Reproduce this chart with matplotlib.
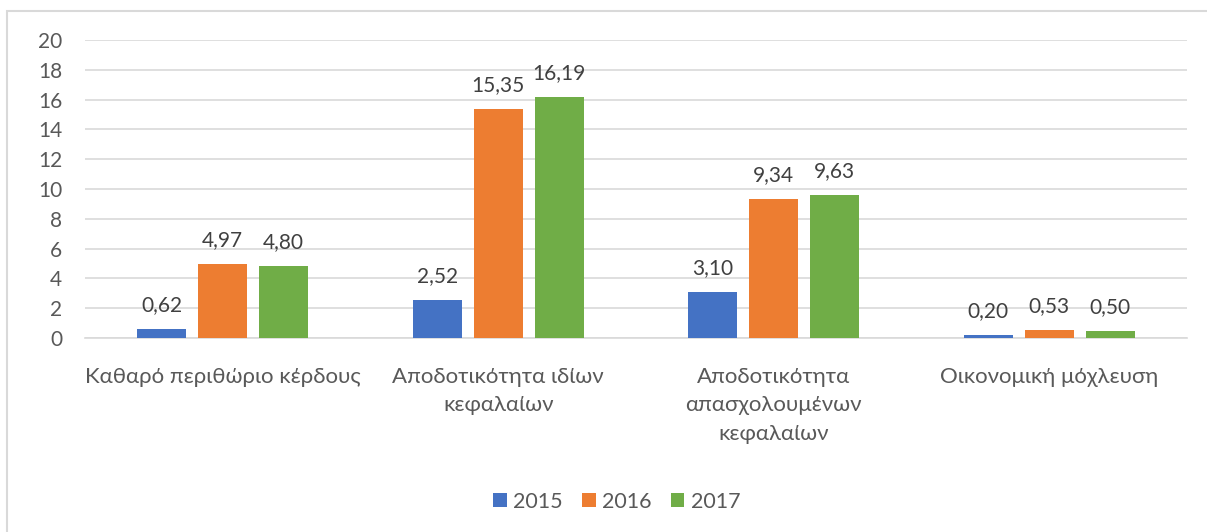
import matplotlib
matplotlib.use("Agg")
import matplotlib.pyplot as plt
import numpy as np
from matplotlib.patches import Rectangle

plt.rcParams["font.family"] = ["Lato", "Open Sans", "DejaVu Sans"]

# Data
categories = ["Καθαρό περιθώριο κέρδους",
              "Αποδοτικότητα ιδίων\nκεφαλαίων",
              "Αποδοτικότητα\nαπασχολουμένων\nκεφαλαίων",
              "Οικονομική μόχλευση"]
years = ["2015", "2016", "2017"]
v2015 = [0.62, 2.52, 3.10, 0.20]
v2016 = [4.97, 15.35, 9.34, 0.53]
v2017 = [4.80, 16.19, 9.63, 0.50]
colors = ["#4472C4", "#ED7D31", "#70AD47"]

fig = plt.figure(figsize=(12.07, 5.32), dpi=100)
ax = fig.add_axes([0.0704, 0.3647, 0.913, 0.5601])

x = np.arange(len(categories))
width = 0.178
step = 0.2214
for i, (vals, yr) in enumerate(zip([v2015, v2016, v2017], years)):
    bars = ax.bar(x + (i - 1) * step, vals, width, color=colors[i], label=yr, zorder=3)
    for b, v in zip(bars, vals):
        ax.annotate(f"{v:.2f}".replace(".", ","), (b.get_x() + b.get_width() / 2, v),
                    xytext=(0, 10), textcoords="offset points", ha="center", va="bottom",
                    fontsize=15, color="#404040")

ax.set_xlim(-0.5, 3.5)
ax.set_ylim(0, 20)
ax.set_yticks(range(0, 21, 2))
ax.yaxis.grid(True, color="#d9d9d9", linewidth=1.2, zorder=0)
ax.set_axisbelow(True)
for s in ["top", "right", "left"]:
    ax.spines[s].set_visible(False)
ax.spines["bottom"].set_color("#d9d9d9")
ax.spines["bottom"].set_linewidth(1.2)
ax.tick_params(axis="both", length=0, labelcolor="#595959")
ax.tick_params(axis="y", pad=16.5, labelsize=15)
ax.tick_params(axis="x", pad=21, labelsize=16)
ax.set_xticks(x)
ax.set_xticklabels(categories, linespacing=1.52)

leg = fig.legend(loc="center", bbox_to_anchor=(0.511, 0.0564), ncol=3, frameon=False,
                 fontsize=15.5, handlelength=0.63, handleheight=0.63, handletextpad=0.3,
                 columnspacing=0.9)
for t in leg.get_texts():
    t.set_color("#595959")

# chart area border (right and bottom edges fall outside the image)
fig.add_artist(Rectangle((7 / 1207, -0.1), 1.2, 1 - 11 / 532 + 0.1, transform=fig.transFigure,
                         fill=False, edgecolor="#d9d9d9", linewidth=1.5))

fig.savefig("out.png", dpi=100)
